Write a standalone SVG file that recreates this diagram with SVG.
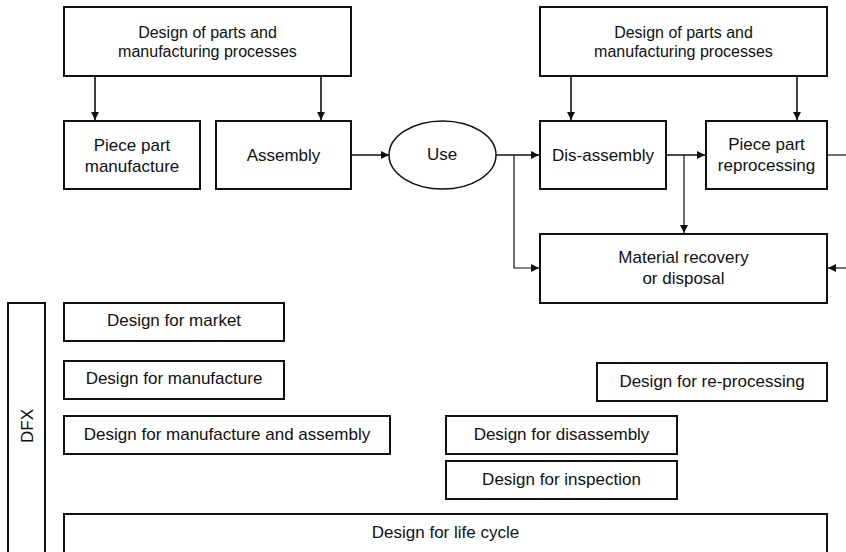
<svg xmlns="http://www.w3.org/2000/svg" width="846" height="552" viewBox="0 0 846 552">
  <style>
    .box { fill: #fff; stroke: #111; stroke-width: 2; }
    .oval { fill: #fff; stroke: #111; stroke-width: 1.5; }
    .lbl { font-family: "Liberation Sans", Arial, sans-serif; font-size: 17px; fill: #111; text-anchor: middle; }
    .lbl16 { font-size: 16px; }
    .wire { fill: none; stroke: #111; stroke-width: 1.6; }
    .thin { stroke-width: 1.2; }
  </style>
  <defs>
    <marker id="arr" viewBox="0 0 10 10" refX="10" refY="5" markerWidth="8" markerHeight="8" markerUnits="userSpaceOnUse" orient="auto">
      <path d="M0,0 L10,5 L0,10 z" fill="#111"/>
    </marker>
  </defs>
  <rect width="846" height="552" fill="#fff"/>

  <!-- connectors -->
  <g id="connectors">
    <path class="wire" d="M95,76 V120" marker-end="url(#arr)"/>
    <path class="wire" d="M321,76 V120" marker-end="url(#arr)"/>
    <path class="wire" d="M351,155 H389" marker-end="url(#arr)"/>
    <path class="wire" d="M496,155 H539" marker-end="url(#arr)"/>
    <path class="wire thin" d="M514,155 V268 H539" marker-end="url(#arr)"/>
    <path class="wire" d="M571,76 V120" marker-end="url(#arr)"/>
    <path class="wire" d="M797,76 V120" marker-end="url(#arr)"/>
    <path class="wire" d="M666,155 H705" marker-end="url(#arr)"/>
    <path class="wire thin" d="M684,155 V233" marker-end="url(#arr)"/>
    <path class="wire thin" d="M827,155 H846"/>
    <path class="wire thin" d="M846,268 H828" marker-end="url(#arr)"/>
  </g>

  <!-- process chain -->
  <g id="design-parts-1">
    <rect class="box" x="64" y="7" width="287" height="69"/>
    <text class="lbl lbl16" x="207.5" y="38">Design of parts and</text>
    <text class="lbl lbl16" x="207.5" y="57">manufacturing processes</text>
  </g>
  <g id="piece-part-manufacture">
    <rect class="box" x="64" y="121" width="136" height="68"/>
    <text class="lbl" x="132" y="151">Piece part</text>
    <text class="lbl" x="132" y="172">manufacture</text>
  </g>
  <g id="assembly">
    <rect class="box" x="216" y="121" width="135" height="68"/>
    <text class="lbl" x="283.5" y="161">Assembly</text>
  </g>
  <g id="use">
    <ellipse class="oval" cx="442.5" cy="155" rx="53.5" ry="34"/>
    <text class="lbl" x="442" y="160">Use</text>
  </g>
  <g id="design-parts-2">
    <rect class="box" x="540" y="7" width="287" height="69"/>
    <text class="lbl lbl16" x="683.5" y="38">Design of parts and</text>
    <text class="lbl lbl16" x="683.5" y="57">manufacturing processes</text>
  </g>
  <g id="dis-assembly">
    <rect class="box" x="540" y="121" width="126" height="68"/>
    <text class="lbl" x="603" y="161">Dis-assembly</text>
  </g>
  <g id="piece-part-reprocessing">
    <rect class="box" x="706" y="121" width="121" height="68"/>
    <text class="lbl" x="766.5" y="150">Piece part</text>
    <text class="lbl" x="766.5" y="171">reprocessing</text>
  </g>
  <g id="material-recovery">
    <rect class="box" x="540" y="234" width="287" height="69"/>
    <text class="lbl" x="683.5" y="263">Material recovery</text>
    <text class="lbl" x="683.5" y="284">or disposal</text>
  </g>

  <!-- DFX bars -->
  <g id="dfx">
    <rect class="box" x="8" y="303" width="37" height="260"/>
    <text class="lbl" transform="translate(33 426) rotate(-90)" x="0" y="0">DFX</text>
  </g>
  <g id="dfm-market">
    <rect class="box" x="64" y="303" width="220" height="38"/>
    <text class="lbl" x="174" y="326">Design for market</text>
  </g>
  <g id="dfm-manufacture">
    <rect class="box" x="64" y="361" width="220" height="38"/>
    <text class="lbl" x="174" y="384">Design for manufacture</text>
  </g>
  <g id="dfma">
    <rect class="box" x="64" y="416" width="326" height="38"/>
    <text class="lbl" x="227" y="440">Design for manufacture and assembly</text>
  </g>
  <g id="dfr">
    <rect class="box" x="597" y="363" width="230" height="38"/>
    <text class="lbl" x="712" y="387">Design for re-processing</text>
  </g>
  <g id="dfd">
    <rect class="box" x="446" y="416" width="231" height="38"/>
    <text class="lbl" x="561.5" y="440">Design for disassembly</text>
  </g>
  <g id="dfi">
    <rect class="box" x="446" y="461" width="231" height="38"/>
    <text class="lbl" x="561.5" y="485">Design for inspection</text>
  </g>
  <g id="dflc">
    <rect class="box" x="64" y="514" width="763" height="50"/>
    <text class="lbl" x="445.5" y="538">Design for life cycle</text>
  </g>
</svg>
